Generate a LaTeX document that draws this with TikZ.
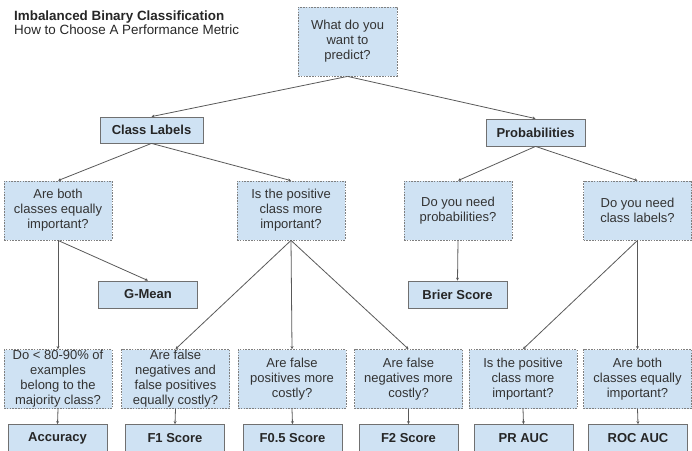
\documentclass[tikz,border=0pt]{standalone}
\usepackage{fontspec}
\setmainfont{Liberation Sans}
\usetikzlibrary{arrows.meta}
\definecolor{boxfill}{HTML}{CFE2F3}
\definecolor{boxdash}{HTML}{7F7F7F}
\definecolor{boxline}{HTML}{707070}
\definecolor{linecol}{HTML}{595959}
\definecolor{txtcol}{HTML}{333333}
\newcommand\boxfont{\fontsize{13}{15}\selectfont}
\newcommand\titlefont{\fontsize{13.4}{14}\selectfont}
\tikzset{
  qbox/.style={draw=boxdash, line width=0.8pt, dash pattern=on 1.6pt off 1.2pt, fill=boxfill,
    minimum width=108pt, minimum height=59pt, align=center, font=\boxfont, text=txtcol, inner sep=0pt},
  abox/.style={draw=boxline, line width=0.8pt, fill=boxfill, minimum width=99pt, minimum height=27pt,
    font=\boxfont\bfseries, text=black!85, inner sep=0pt},
  arr/.style={-{Stealth[length=3pt,width=3pt]}, draw=linecol, line width=0.8pt},
}
\begin{document}
\begin{tikzpicture}[x=1pt,y=-1pt]
\useasboundingbox (0,0) rectangle (692,450);
% title
\node[anchor=base west, inner sep=0pt, font=\titlefont\bfseries, text=black!85] (t1) at (14,20) {Imbalanced Binary Classification};
\node[anchor=base west, inner sep=0pt, font=\titlefont, text=black!85] (t2) at (14,34) {How to Choose A Performance Metric};
% level 1
\node[qbox, minimum width=99pt, minimum height=69pt] (top) at (347.5,41.5) {What do you\\want to\\predict?};
% level 2
\node[abox, minimum width=103pt, minimum height=26pt] (cl) at (151.5,130) {Class Labels};
\node[abox] (pr) at (535.5,132.5) {Probabilities};
% level 3
\node[qbox] (q1) at (58,210.5) {Are both\\classes equally\\important?};
\node[qbox] (q2) at (291,210.5) {Is the positive\\class more\\important?};
\node[qbox] (q3) at (458,210.5) {Do you need\\probabilities?};
\node[qbox] (q4) at (637.5,210.5) {Do you need\\class labels?};
% mid answers
\node[abox] (gm) at (148,294.5) {G-Mean};
\node[abox] (bs) at (457.5,294.5) {Brier Score};
% level 4
\node[qbox] (r1) at (58,379) {Do < 80-90\% of\\examples\\belong to the\\majority class?};
\node[qbox] (r2) at (175.5,379) {Are false\\negatives and\\false positives\\equally costly?};
\node[qbox] (r3) at (292,379) {Are false\\positives more\\costly?};
\node[qbox] (r4) at (408.5,379) {Are false\\negatives more\\costly?};
\node[qbox] (r5) at (523,379) {Is the positive\\class more\\important?};
\node[qbox] (r6) at (637.5,379) {Are both\\classes equally\\important?};
% level 5
\node[abox] (a1) at (57.5,438) {Accuracy};
\node[abox] (a2) at (175,438) {F1 Score};
\node[abox] (a3) at (292.5,438) {F0.5 Score};
\node[abox] (a4) at (408.5,438) {F2 Score};
\node[abox] (a5) at (523.5,438) {PR AUC};
\node[abox] (a6) at (638,438) {ROC AUC};
% connectors
\draw[arr] (top.south) -- (cl.north);
\draw[arr] (top.south) -- (pr.north);
\draw[arr] (cl.south) -- (q1.north);
\draw[arr] (cl.south) -- (q2.north);
\draw[arr] (pr.south) -- (q3.north);
\draw[arr] (pr.south) -- (q4.north);
\draw[arr] (q1.south) -- (gm.north);
\draw[arr] (q1.south) -- (r1.north);
\draw[arr] (q2.south) -- (r2.north);
\draw[arr] (q2.south) -- (r3.north);
\draw[arr] (q2.south) -- (r4.north);
\draw[arr] (q3.south) -- (bs.north);
\draw[arr] (q4.south) -- (r5.north);
\draw[arr] (q4.south) -- (r6.north);
\draw[arr] (r1.south) -- (a1.north);
\draw[arr] (r2.south) -- (a2.north);
\draw[arr] (r3.south) -- (a3.north);
\draw[arr] (r4.south) -- (a4.north);
\draw[arr] (r5.south) -- (a5.north);
\draw[arr] (r6.south) -- (a6.north);
\end{tikzpicture}
\end{document}
